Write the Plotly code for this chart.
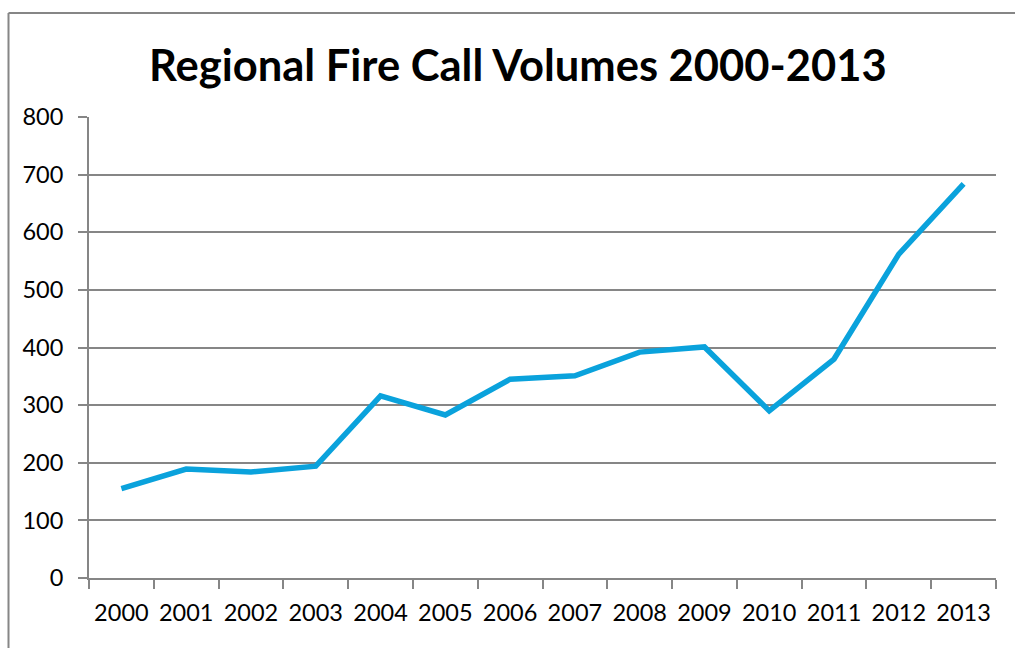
import plotly.graph_objects as go

years = ["2000", "2001", "2002", "2003", "2004", "2005", "2006",
         "2007", "2008", "2009", "2010", "2011", "2012", "2013"]
calls = [155, 189, 184, 194, 316, 283, 345, 351, 392, 401, 290, 380, 562, 684]
y_ticks = [0, 100, 200, 300, 400, 500, 600, 700, 800]

W, H = 1015, 648
L, R, T, B = 89, 19, 117, 70
pw, ph = W - L - R, H - T - B

fig = go.Figure()
fig.add_trace(go.Scatter(
    x=years, y=calls, mode="lines",
    line=dict(color="#0AA2DC", width=5.5),
    hoverinfo="x+y", showlegend=False,
))

font_family = "Lato, 'Open Sans', sans-serif"
fig.update_layout(
    width=W, height=H,
    margin=dict(l=L, r=R, t=T, b=B, pad=0, autoexpand=False),
    paper_bgcolor="white", plot_bgcolor="white",
    font=dict(family=font_family, color="black", size=23.5),
    xaxis=dict(
        type="category", range=[-0.5, 13.5], automargin=False,
        showgrid=False, showline=True, linecolor="#868686", linewidth=2,
        ticks="outside", tickson="boundaries", ticklen=9, tickwidth=2,
        tickcolor="#868686", tickfont=dict(size=23.5, color="black"),
        ticklabelstandoff=13, tickangle=0,
    ),
    yaxis=dict(
        range=[0, 800], tickvals=y_ticks, automargin=False,
        showgrid=True, gridcolor="#868686", gridwidth=2,
        showline=True, linecolor="#868686", linewidth=2,
        ticks="outside", ticklen=9, tickwidth=2, tickcolor="#868686",
        tickfont=dict(size=23.5, color="black"), zeroline=False,
        ticklabelstandoff=10,
    ),
    annotations=[dict(
        text="<b>Regional Fire Call Volumes 2000-2013</b>",
        xref="paper", yref="paper",
        x=(518 - L) / pw, y=(H - B - 64) / ph,
        xanchor="center", yanchor="middle", showarrow=False,
        font=dict(size=43.5, color="black", family=font_family),
    )],
    shapes=[
        dict(type="line", xref="paper", yref="paper",
             x0=(8.5 - L) / pw, x1=(8.5 - L) / pw,
             y0=(H - B - 660) / ph, y1=(H - B - 13) / ph,
             line=dict(color="#868686", width=2), layer="below"),
        dict(type="line", xref="paper", yref="paper",
             x0=(8.5 - L) / pw, x1=(1020 - L) / pw,
             y0=(H - B - 13) / ph, y1=(H - B - 13) / ph,
             line=dict(color="#868686", width=2), layer="below"),
    ],
)

fig.write_html("out.html")
